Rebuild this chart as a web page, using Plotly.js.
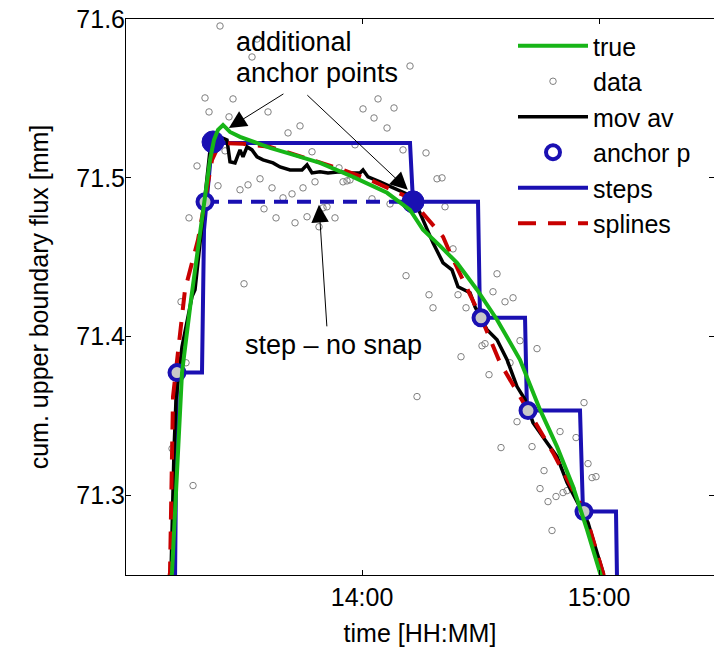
<!DOCTYPE html>
<html>
<head>
<meta charset="utf-8">
<script src="https://cdn.plot.ly/plotly-3.0.1.min.js"></script>
<style>html,body{margin:0;padding:0;background:#fff;}#chart{width:714px;height:662px;}</style>
</head>
<body>
<div id="chart"></div>
<script>
// times are minutes after 13:00
const trueT = [11.65,11.90,13.16,14.43,16.71,18.99,20.25,21.52,22.53,23.54,24.81,26.58,29.11,32.41,36.71,41.01,49.37,57.72,66.33,72.15,75.44,79.75,84.05,89.11,94.18,100.00,105.06,109.37,113.42,116.96,120.25,120.76];
const trueV = [71.2472,71.2516,71.3145,71.3774,71.4233,71.4673,71.4893,71.5113,71.5239,71.5302,71.5333,71.5289,71.5258,71.5226,71.5189,71.5157,71.5094,71.5006,71.4906,71.4799,71.4673,71.4572,71.4465,71.4296,71.4107,71.3855,71.3541,71.3308,71.3057,71.2786,71.2516,71.2472];

const dataT = [24.05,33.42,32.15,72.15,20.25,27.34,21.27,26.33,36.20,44.30,41.27,64.05,60.25,68.10,63.04,66.33,25.32,47.34,18.23,58.23,54.18,23.54,31.14,29.11,34.18,37.22,45.06,48.10,55.19,56.20,56.96,40.00,42.28,62.53,67.09,35.19,38.23,43.04,46.08,50.13,51.14,53.16,49.11,16.20,70.38,76.20,78.99,80.25,81.01,83.04,30.13,14.18,15.44,11.90,17.22,71.14,73.92,94.18,76.96,77.97,84.30,86.33,93.16,96.20,98.23,90.38,91.14,85.06,100.00,104.30,92.15,97.47,99.24,95.19,103.04,110.13,114.18,116.20,106.08,117.22,118.23,119.24,105.06,107.09,109.11,110.89,111.90,113.16,108.10];
const dataV = [71.5956,71.5874,71.5761,71.5704,71.5503,71.5497,71.5415,71.5384,71.5415,71.5327,71.5283,71.5497,71.5434,71.5440,71.5377,71.5314,71.5170,71.5164,71.5075,71.5208,71.5063,71.4950,71.4956,71.4925,71.4994,71.4937,71.4937,71.4975,71.4975,71.4981,71.4987,71.4874,71.4899,71.4868,71.4836,71.4805,71.4748,71.4717,71.4755,71.4811,71.4818,71.4748,71.4692,71.4748,71.5176,71.5157,71.4994,71.5000,71.4818,71.4553,71.4333,71.4220,71.3836,71.3296,71.3063,71.4384,71.3623,71.4396,71.4264,71.4182,71.4264,71.4182,71.4283,71.4220,71.4245,71.3943,71.3956,71.3874,71.3975,71.3925,71.3761,71.3836,71.3465,71.3302,71.3308,71.3403,71.3365,71.3585,71.3157,71.3201,71.3113,71.3119,71.3044,71.2962,71.2994,71.3019,71.3031,71.3044,71.2780];

const movT = [11.39,11.65,12.41,12.91,14.43,16.96,17.72,18.99,20.25,21.52,22.78,24.56,25.82,26.58,27.85,29.11,29.87,30.89,32.15,33.42,34.94,37.47,39.24,41.77,44.81,46.08,47.34,49.37,51.39,54.43,56.96,59.49,60.25,61.52,64.56,67.85,70.38,72.91,77.97,80.51,82.78,84.30,87.34,88.61,91.65,94.18,96.71,99.24,101.27,103.29,106.84,109.37,111.90,115.19,117.22,118.48,121.01,121.27];
const movV = [71.2472,71.2516,71.3289,71.3604,71.3937,71.4252,71.4296,71.4579,71.4893,71.5176,71.5239,71.5252,71.5239,71.5101,71.5094,71.5176,71.5132,71.5195,71.5176,71.5132,71.5113,71.5094,71.5069,71.5050,71.5050,71.5082,71.5031,71.5038,71.5031,71.5038,71.5031,71.5031,71.5050,71.5006,71.4975,71.4937,71.4912,71.4881,71.4591,71.4465,71.4421,71.4314,71.4277,71.4189,71.4044,71.3981,71.3855,71.3686,71.3604,71.3459,71.3333,71.3245,71.3082,71.2931,71.2830,71.2723,71.2516,71.2472];

const anchorT = [13.16,20.25,90.13,102.03,116.20];
const anchorV = [71.3774,71.4849,71.4119,71.3535,71.2899];
const extraT = [22.28,72.91];
const extraV = [71.5226,71.4849];

const stepT = [12.66,13.16,19.49,20.00,22.03,72.15,72.91,89.37,89.87,101.27,101.77,115.19,115.95,124.30,124.56];
const stepV = [71.2472,71.3774,71.3774,71.4673,71.5220,71.5220,71.4849,71.4849,71.4119,71.4119,71.3535,71.3535,71.2899,71.2899,71.2472];

const noSnapT = [20.25,72.91];
const noSnapV = [71.4849,71.4849];

const splT = [11.14,11.39,12.15,13.67,15.19,18.48,20.25,22.03,24.05,29.87,36.71,45.06,53.67,62.03,70.38,72.91,80.51,82.28,90.38,94.94,102.03,108.35,116.46,121.01,121.52];
const splV = [71.2472,71.2516,71.3623,71.3937,71.4296,71.4610,71.4862,71.5113,71.5220,71.5214,71.5195,71.5132,71.5063,71.4987,71.4893,71.4849,71.4629,71.4528,71.4107,71.3836,71.3541,71.3270,71.2893,71.2516,71.2472];

const xTickMin = [60, 120];
const xTickText = ['14:00','15:00'];
const yTicks = [71.3,71.4,71.5,71.6];

const T0 = Date.UTC(2000,0,1,13,0,0);
function toDate(m){ return new Date(T0 + m*60000).toISOString().replace('T',' ').replace('Z',''); }
const D = a => a.map(toDate);

const BLUE = '#1a10b2', GREEN = '#17b517', RED = '#c80000';
const FONT = 'Liberation Sans, Arial, Helvetica, sans-serif';

const traces = [
  {x:D(dataT), y:dataV, mode:'markers', name:'data', legendrank:2,
   marker:{symbol:'circle-open', size:6.5, color:'#808080', line:{width:1,color:'#808080'}}},
  {x:D(stepT), y:stepV, mode:'lines', name:'steps', legendrank:5, line:{color:BLUE, width:4}},
  {x:D(noSnapT), y:noSnapV, mode:'lines', showlegend:false, line:{color:BLUE, width:4, dash:'14px,9px'}},
  {x:D(movT), y:movV, mode:'lines', name:'mov av', legendrank:3, line:{color:'#000', width:3.5}},
  {x:D(splT), y:splV, mode:'lines', name:'splines', legendrank:6, line:{color:RED, width:4, dash:'18px,12px'}},
  {x:D(anchorT), y:anchorV, mode:'markers', showlegend:false,
   marker:{symbol:'circle', size:15, color:'#c8c8c8', line:{color:BLUE, width:4}}},
  {x:D(extraT), y:extraV, mode:'markers', showlegend:false,
   marker:{symbol:'circle', size:22, color:BLUE, line:{color:BLUE, width:1}}},
  {x:D(trueT), y:trueV, mode:'lines', name:'true', legendrank:1, line:{color:GREEN, width:4}},
  {x:[null], y:[null], mode:'markers', name:'anchor p', legendrank:4,
   marker:{symbol:'circle', size:14, color:'#fff', line:{color:BLUE, width:4}}}
];

const layout = {
  width:714, height:662,
  margin:{l:126, r:0, t:19, b:87},
  paper_bgcolor:'#fff', plot_bgcolor:'#fff',
  font:{family:FONT, size:25, color:'#000'},
  showlegend:true,
  legend:{x:(513-126)/588, y:1-(23-19)/556, xanchor:'left', yanchor:'top',
    bgcolor:'rgba(0,0,0,0)', font:{size:25, family:FONT}, traceorder:'normal', itemwidth:70,
    tracegroupgap:0},
  xaxis:{type:'date', range:[toDate(0.25), toDate(0.25+588/3.95)],
    tickvals:D(xTickMin), ticktext:xTickText, ticks:'inside', ticklen:5, tickcolor:'#000',
    showline:true, linecolor:'#000', linewidth:1, mirror:'ticks', showgrid:false, zeroline:false,
    tickfont:{size:25},
    title:{text:'time [HH:MM]', font:{size:25}, standoff:14}},
  yaxis:{range:[71.25,71.6], tickvals:yTicks, ticktext:yTicks.map(v=>v.toFixed(1)),
    ticks:'inside', ticklen:5, tickcolor:'#000', ticklabelstandoff:-5,
    showline:true, linecolor:'#000', linewidth:1, mirror:'ticks', showgrid:false, zeroline:false,
    tickfont:{size:25},
    title:{text:'cum. upper boundary flux [mm]', font:{size:25}, standoff:20}},
  annotations:[
    {xref:'paper', yref:'paper', x:(234-126)/588, y:(575-42)/556, xanchor:'left', yanchor:'middle',
     text:'additional', showarrow:false, font:{size:27}},
    {xref:'paper', yref:'paper', x:(234-126)/588, y:(575-73)/556, xanchor:'left', yanchor:'middle',
     text:'anchor points', showarrow:false, font:{size:27}},
    {xref:'paper', yref:'paper', x:(243-126)/588, y:(575-345)/556, xanchor:'left', yanchor:'middle',
     text:'step – no snap', showarrow:false, font:{size:27}},
    {x:toDate(26.3), y:71.5314, ax:56, ay:-35, text:'', showarrow:true, arrowhead:2, arrowsize:3.5, arrowwidth:1, arrowcolor:'#000', standoff:0},
    {x:toDate(71.6), y:71.4925, ax:-102, ay:-96, text:'', showarrow:true, arrowhead:2, arrowsize:3.5, arrowwidth:1, arrowcolor:'#000', standoff:0},
    {x:toDate(49.1), y:71.483, ax:8, ay:123, text:'', showarrow:true, arrowhead:2, arrowsize:3.5, arrowwidth:1, arrowcolor:'#000', standoff:0}
  ]
};

Plotly.newPlot('chart', traces, layout, {displayModeBar:false, staticPlot:true});
</script>
</body>
</html>
